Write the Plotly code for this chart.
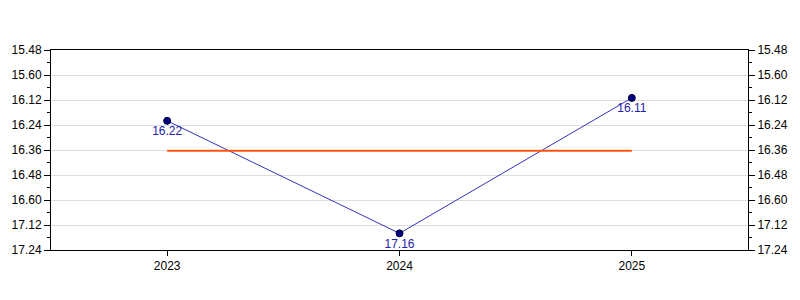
import plotly.graph_objects as go

# Data (values in minutes.seconds notation)
years = ["2023", "2024", "2025"]
times = [16.22, 17.16, 16.11]
time_labels = ["16.22", "17.16", "16.11"]
y_tick_labels = ["15.48", "15.60", "16.12", "16.24", "16.36", "16.48", "16.60", "17.12", "17.24"]


def to_seconds(label):
    s = f"{float(label):.2f}"
    m, sec = s.split(".")
    return int(m) * 60 + int(sec)


y_secs = [to_seconds(t) for t in times]
tick_secs = [to_seconds(t) for t in y_tick_labels]
mean_secs = sum(y_secs) / len(y_secs)

fig = go.Figure()

fig.add_trace(go.Scatter(
    x=years, y=y_secs, mode="lines+markers+text",
    line=dict(color="#3333BB", width=1),
    marker=dict(color="#000080", size=7, line=dict(color="#000033", width=1)),
    text=time_labels, textposition="bottom center",
    textfont=dict(color="#2222AA", size=12, family="Liberation Sans, Arial"),
    showlegend=False,
))

fig.add_trace(go.Scatter(
    x=[years[0], years[-1]], y=[mean_secs, mean_secs],
    mode="lines", line=dict(color="#FF5511", width=2),
    hoverinfo="skip", showlegend=False,
))

# invisible trace for right axis
fig.add_trace(go.Scatter(
    x=years, y=y_secs, yaxis="y2", mode="markers",
    marker=dict(opacity=0), hoverinfo="skip", showlegend=False,
))

yrange = [tick_secs[-1], tick_secs[0]]
common_y = dict(
    range=yrange, tickmode="array", tickvals=tick_secs, ticktext=y_tick_labels,
    ticks="outside", ticklen=6, tickcolor="black", tickwidth=1,
    showline=True, linecolor="black", linewidth=1,
    tickfont=dict(family="Liberation Sans, Arial", size=12, color="black"),
    minor=dict(ticks="outside", ticklen=3, tickcolor="black",
               tickmode="array", tickvals=[v + 6 for v in tick_secs[:-1]],
               showgrid=False),
    zeroline=False,
)

fig.update_layout(
    width=800, height=300,
    margin=dict(l=50, r=50, t=50, b=50),
    paper_bgcolor="white", plot_bgcolor="white",
    xaxis=dict(
        type="category", categoryorder="array", categoryarray=years,
        range=[-0.5, 2.5],
        ticks="outside", ticklen=5, tickcolor="black",
        showline=True, linecolor="black", linewidth=1, mirror=True,
        showgrid=False, zeroline=False,
        tickfont=dict(family="Liberation Sans, Arial", size=12, color="black"),
    ),
    yaxis=dict(showgrid=True, gridcolor="#DDDDDD", gridwidth=1, side="left", **common_y),
    yaxis2=dict(overlaying="y", side="right", showgrid=False, **common_y),
)

fig.write_html("out.html")
